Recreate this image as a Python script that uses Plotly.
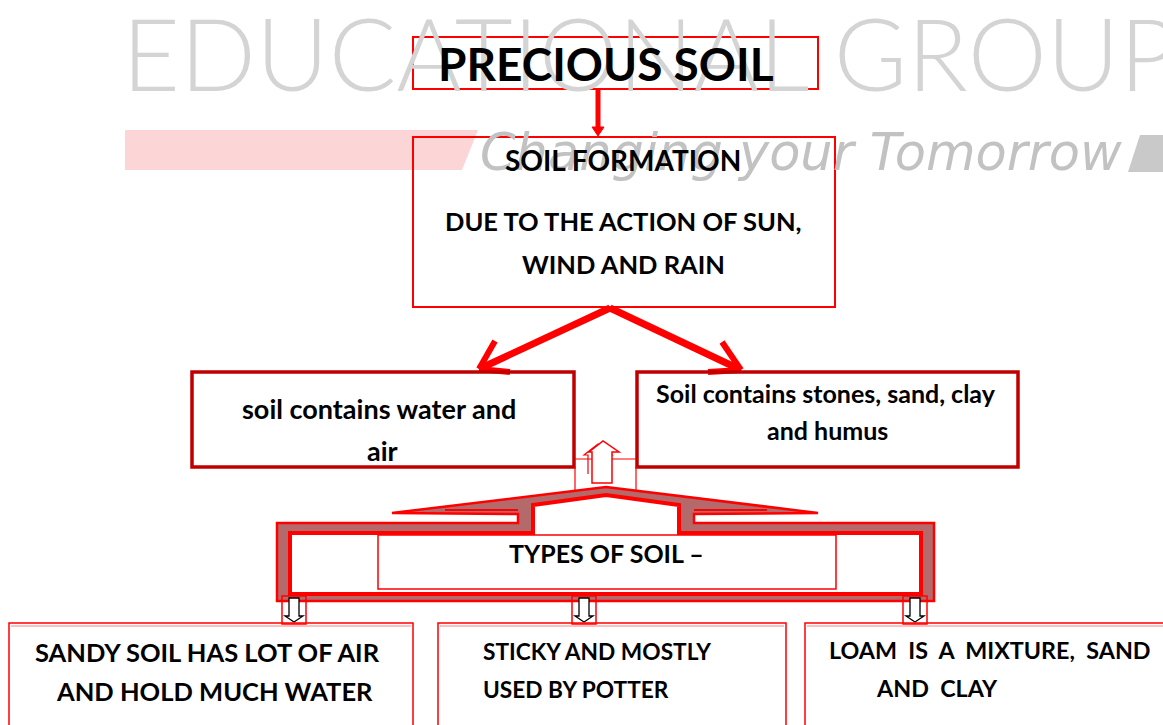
import plotly.graph_objects as go

# ---- text content ----
watermark_main = "EDUCATIONAL GROUP"
watermark_sub = "Changing your Tomorrow"
title_text = "PRECIOUS SOIL"
formation_lines = ["SOIL FORMATION", "DUE TO THE ACTION OF SUN,", "WIND AND RAIN"]
left_lines = ["soil contains water and", "air"]
right_lines = ["Soil contains stones, sand, clay", "and humus"]
types_text = "TYPES OF SOIL \u2013"
sandy_lines = ["SANDY SOIL HAS LOT OF AIR", "AND HOLD MUCH WATER"]
clay_lines = ["STICKY AND MOSTLY", "USED BY POTTER"]
loam_lines = ["LOAM  IS  A  MIXTURE,  SAND", "AND  CLAY"]

W, H = 1163, 725
RED = "#ff0000"
DARKRED = "#c00000"
BAND = "#b46a6a"
FONT = "Lato"

fig = go.Figure()
shapes = []
ann = []

def rect(x0, y0, x1, y1, color=RED, width=1.5, fill="rgba(0,0,0,0)"):
    shapes.append(dict(type="rect", xref="x", yref="y", x0=x0, y0=y0, x1=x1, y1=y1,
                       line=dict(color=color, width=width), fillcolor=fill, layer="above"))

def line(x0, y0, x1, y1, color=RED, width=2):
    shapes.append(dict(type="line", xref="x", yref="y", x0=x0, y0=y0, x1=x1, y1=y1,
                       line=dict(color=color, width=width), layer="above"))

def path(d, color=RED, width=1.5, fill="rgba(0,0,0,0)", rule="nonzero"):
    shapes.append(dict(type="path", xref="x", yref="y", path=d, fillrule=rule,
                       line=dict(color=color, width=width), fillcolor=fill, layer="above"))

def text(t, x, y, size, anchor="center", color="black", bold=True, family=FONT, weight=None, italic=False):
    f = dict(family=family, size=size, color=color)
    if weight is not None:
        f["weight"] = weight
    if italic:
        f["style"] = "italic"
    ann.append(dict(text=("<b>%s</b>" % t) if bold else t, x=x, y=y, xref="x", yref="y",
                    xanchor=anchor, yanchor="middle", showarrow=False, font=f))

# ---- watermark ----
shapes.append(dict(type="path", xref="x", yref="y", layer="below",
                   path="M125,130 L478,130 L462,170 L125,170 Z",
                   fillcolor="#fcd6d6", line=dict(width=0)))
shapes.append(dict(type="path", xref="x", yref="y", layer="below",
                   path="M1140,135 L1163,135 L1163,172 L1128,172 Z",
                   fillcolor="#c9c9c9", line=dict(width=0)))
text(watermark_main, 120, 52, 100, anchor="left", color="#d4d4d4", bold=False, weight=300)
text(watermark_sub, 478, 152, 51, anchor="left", color="#c2c2c2", bold=False,
     family="DejaVu Sans", weight=200, italic=True)

# ---- title box ----
rect(413, 37, 818, 89, RED, 2)
text(title_text, 606, 63, 46)

# arrow to formation box
line(598, 88, 598, 130, RED, 5)
path("M592,127 L604,127 L598,136 Z", RED, 1, RED)

# ---- formation box ----
rect(413, 137, 835, 307, RED, 2)
text(formation_lines[0], 623, 160, 28)
text(formation_lines[1], 623, 221, 25.5)
text(formation_lines[2], 623, 264, 25.5)

# diagonal arrows
line(610, 308, 479, 369, RED, 7)
line(610, 308, 741, 370, RED, 7)
line(479, 369, 495, 341, RED, 6)
line(479, 369, 510, 372, RED, 6)
line(741, 370, 722, 342, RED, 6)
line(741, 370, 708, 372, RED, 6)

# ---- middle boxes ----
rect(192, 372, 574, 467, DARKRED, 3.5)
rect(637, 372, 1018, 467, DARKRED, 3.5)
text(left_lines[0], 379, 408, 27)
text(left_lines[1], 382, 450, 27)
text(right_lines[0], 826, 393, 25)
text(right_lines[1], 827, 430, 25)

# small connector rectangle and up arrows
line(575, 467, 575, 492, RED, 1.2)
line(636, 467, 636, 492, RED, 1.2)
line(575, 459, 636, 459, RED, 1.2)
path("M588,474 L588,455 L584,455 L598,444 L612,455 L608,455", RED, 1.2)
path("M592,483 L592,452 L589,452 L603,441 L619,452 L612,452 L612,483 Z", RED, 1.5, "white")

# ---- roof / frame ----
outer = ("M277,601 L277,523 L518,523 L518,514 L392,513 L606,487 L818,513 "
         "L694,514 L694,523 L934,523 L934,601 Z")
inner = ("M290,594 L290,533 L533,533 L533,505 L606,495 L679,505 "
         "L679,533 L921,533 L921,594 Z")
path(outer + " " + inner, "rgba(0,0,0,0)", 0, BAND, rule="evenodd")
path(outer, RED, 2.5)
path(inner, RED, 4)
line(445, 510, 518, 510, RED, 2)
line(694, 510, 767, 510, RED, 2)

rect(378, 535, 836, 589, RED, 1.5)
text(types_text, 606, 553, 25)

# small down arrows
for cx in (294, 584, 915):
    rect(cx - 12, 596, cx + 12, 624, RED, 1.5)
    path("M%d,598 L%d,598 L%d,616 L%d,616 L%d,622 L%d,616 L%d,616 Z" % (
        cx - 5, cx + 5, cx + 5, cx + 9, cx, cx - 9, cx - 5), "black", 1.3, "white")

# ---- bottom boxes ----
rect(9, 623, 413, 740, RED, 1.5)
rect(438, 623, 786, 740, RED, 1.5)
rect(805, 623, 1175, 740, RED, 1.5)
line(11, 626, 411, 626, "#ff8080", 1)
line(440, 626, 784, 626, "#ff8080", 1)
line(807, 626, 1163, 626, "#ff8080", 1)
text(sandy_lines[0], 207, 652, 25.5)
text(sandy_lines[1], 214, 691, 25.5)
text(clay_lines[0], 481, 651, 22.7, anchor="left")
text(clay_lines[1], 481, 689, 22.7, anchor="left")
text(loam_lines[0], 827, 650, 23.3, anchor="left")
text(loam_lines[1], 874, 688, 23.3, anchor="left")

fig.update_layout(
    width=W, height=H,
    margin=dict(l=0, r=0, t=0, b=0),
    paper_bgcolor="white", plot_bgcolor="white",
    xaxis=dict(range=[0, W], visible=False, fixedrange=True),
    yaxis=dict(range=[H, 0], visible=False, fixedrange=True),
    shapes=shapes, annotations=ann, showlegend=False,
)
fig.write_html("out.html", config={"displayModeBar": False},
               post_script="document.body.style.margin='0px';document.body.style.overflow='hidden';")
